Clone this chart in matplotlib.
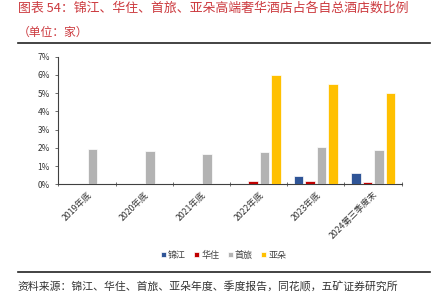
import matplotlib
matplotlib.use("Agg")
import matplotlib.pyplot as plt
import numpy as np
from matplotlib.ticker import FuncFormatter, FixedLocator

plt.rcParams['font.family'] = ['Noto Sans CJK SC', 'DejaVu Sans']

# ---------- data (share of high-end luxury hotels, %) ----------
periods = ["2019年底", "2020年底", "2021年底", "2022年底", "2023年底", "2024第三季度末"]
jinjiang = [np.nan, np.nan, np.nan, np.nan, 0.47, 0.62]
huazhu = [np.nan, np.nan, np.nan, 0.18, 0.18, 0.13]
shoulv = [1.96, 1.84, 1.65, 1.75, 2.05, 1.88]
yaduo = [np.nan, np.nan, np.nan, 6.0, 5.5, 5.0]

series = [
    ("锦江", jinjiang, "#2F5597"),
    ("华住", huazhu, "#C00000"),
    ("首旅", shoulv, "#B3B3B3"),
    ("亚朵", yaduo, "#FFC000"),
]

TITLE_RED = "#CC3A3F"

fig = plt.figure(figsize=(4.34, 3.05), dpi=100)
fig.patch.set_facecolor("white")
ax = fig.add_axes([0.1343, 0.3957, 0.7913, 0.4183])

x = np.arange(len(periods))
step = 0.2
width = 0.165
for i, (name, vals, color) in enumerate(series):
    ax.bar(x + (i - 1.5) * step, vals, width=width, color=color,
           edgecolor="white", linewidth=0.5, label=name, zorder=3)

ax.set_xlim(-0.5, len(periods) - 0.5)
ax.set_ylim(0, 7)
ax.yaxis.set_major_locator(FixedLocator(range(0, 8)))
ax.yaxis.set_major_formatter(FuncFormatter(lambda v, p: f"{int(v)}%"))

# category ticks at group boundaries, labels at centres
ax.set_xticks(np.arange(-0.5, len(periods) + 0.5, 1.0))
ax.set_xticklabels([])
ax.set_xticks(x, minor=True)
ax.set_xticklabels(periods, minor=True, rotation=45, ha="right",
                   rotation_mode="anchor", fontsize=6.3, color="#333333")
ax.tick_params(axis="x", which="minor", length=0, pad=4)
ax.tick_params(axis="x", which="major", direction="inout", length=3,
               width=0.6, color="#555555")
ax.tick_params(axis="y", direction="out", length=2, width=0.6,
               color="#555555", labelsize=6, labelcolor="#333333", pad=4)

for s in ["top", "right"]:
    ax.spines[s].set_visible(False)
for s in ["left", "bottom"]:
    ax.spines[s].set_color("#404040")
    ax.spines[s].set_linewidth(0.8)

leg = fig.legend(loc="center", bbox_to_anchor=(0.515, 0.164), ncol=4,
                 frameon=False, fontsize=6.5, handlelength=0.55,
                 handleheight=0.55, handletextpad=0.25, columnspacing=0.9,
                 labelcolor="#404040")

# ---------- title ----------
fig.text(0.041, 0.974, "图表 54：锦江、华住、首旅、亚朵高端奢华酒店占各自总酒店数比例",
         fontsize=9.3, color=TITLE_RED, va="center", ha="left")
fig.text(0.041, 0.895, "（单位：家）", fontsize=8.5, color=TITLE_RED,
         va="center", ha="left")
fig.add_artist(plt.Line2D([0.041, 0.991], [0.860, 0.860],
                          transform=fig.transFigure, color="#222222", linewidth=1.2))

# ---------- source ----------
fig.add_artist(plt.Line2D([0.041, 0.991], [0.109, 0.109],
                          transform=fig.transFigure, color="#222222", linewidth=1.2))
fig.text(0.041, 0.062, "资料来源：锦江、华住、首旅、亚朵年度、季度报告，同花顺，五矿证券研究所",
         fontsize=7.8, color="#333333", va="center", ha="left")

fig.savefig("out.png", dpi=100, facecolor="white")
